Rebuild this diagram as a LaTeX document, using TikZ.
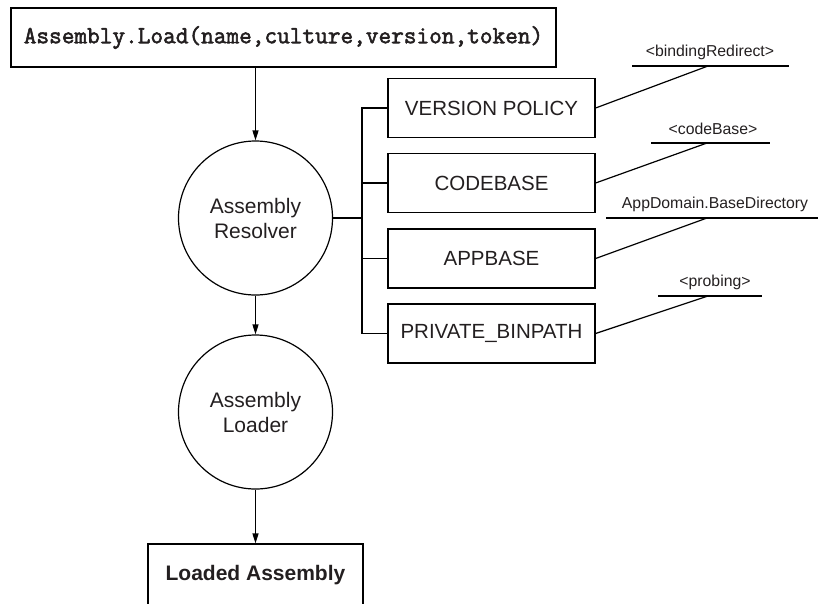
\documentclass[tikz,border=0pt]{standalone}
\usepackage{fontspec}
\setmainfont{Liberation Sans}
\newfontfamily\codefont[FakeBold=2.2]{Latin Modern Mono}
\usetikzlibrary{arrows.meta}
\definecolor{ink}{RGB}{35,31,32}
\tikzset{
  every node/.style={text=ink},
  line/.style={draw=black, line width=1.2pt},
  flow/.style={line, -{Triangle[length=10pt,width=6pt]}},
  procbox/.style={line, rectangle, minimum width=207pt, minimum height=59pt,
    inner sep=0pt, font=\fontsize{20.5}{24}\selectfont},
  stage/.style={line, circle, minimum size=154pt, inner sep=0pt, align=center,
    font=\fontsize{21}{25}\selectfont},
  tag/.style={inner sep=0pt, font=\fontsize{15.8}{18}\selectfont},
}
\begin{document}
\begin{tikzpicture}[x=1pt, y=-1pt]
  \useasboundingbox (0,0) rectangle (818,603);
  \clip (0,0) rectangle (818,603);

  % call, resolver, loader, result
  \node[line, rectangle, minimum width=545pt, minimum height=59pt, inner sep=0pt,
        font=\codefont\fontsize{24.6}{26}\selectfont] (call) at (283.5,37.5)
        {Assembly.Load(name,culture,version,token)};
  \node[stage] (res) at (255.5,218) {Assembly\\Resolver};
  \node[stage] (ldr) at (255.5,412) {Assembly\\Loader};
  \node[line, rectangle, minimum width=215pt, minimum height=62pt, inner sep=0pt,
        font=\bfseries\fontsize{21}{24}\selectfont] (loaded) at (255.5,575)
        {Loaded Assembly};

  \draw[flow] (call.south -| res.north) -- (res.north);
  \draw[flow] (res.south) -- (ldr.north);
  \draw[flow] (ldr.south) -- (loaded.north);

  % probing steps
  \node[procbox] (vp)  at (491.5,108) {VERSION POLICY};
  \node[procbox] (cb)  at (491.5,183) {CODEBASE};
  \node[procbox] (ab)  at (491.5,258.5) {APPBASE};
  \node[procbox] (pb)  at (491.5,333.5) {PRIVATE\_BINPATH};

  \coordinate (bus) at (362,218);
  \draw[line] (res.east) -- (bus);
  \foreach \b in {vp,cb,ab,pb} \draw[line] (\b.west) -| (bus);

  % configuration sources
  \node[tag] (t1) at (710,52)  {<bindingRedirect>};
  \node[tag] (t2) at (713,129) {<codeBase>};
  \node[tag] (t3) at (715,204) {AppDomain.BaseDirectory};
  \node[tag] (t4) at (715,282) {<probing>};

  \coordinate (u1a) at (632,66);  \coordinate (u1) at (708,66);  \coordinate (u1b) at (789,66);
  \coordinate (u2a) at (651,143); \coordinate (u2) at (707,143); \coordinate (u2b) at (770,143);
  \coordinate (u3a) at (606,218); \coordinate (u3) at (707,218); \coordinate (u3b) at (818,218);
  \coordinate (u4a) at (658,296); \coordinate (u4) at (708,296); \coordinate (u4b) at (762,296);

  \foreach \i in {1,2,3,4} \draw[line] (u\i a) -- (u\i b);
  \draw[line] (vp.east) -- (u1);
  \draw[line] (cb.east) -- (u2);
  \draw[line] (ab.east) -- (u3);
  \draw[line] (pb.east) -- (u4);
\end{tikzpicture}
\end{document}
